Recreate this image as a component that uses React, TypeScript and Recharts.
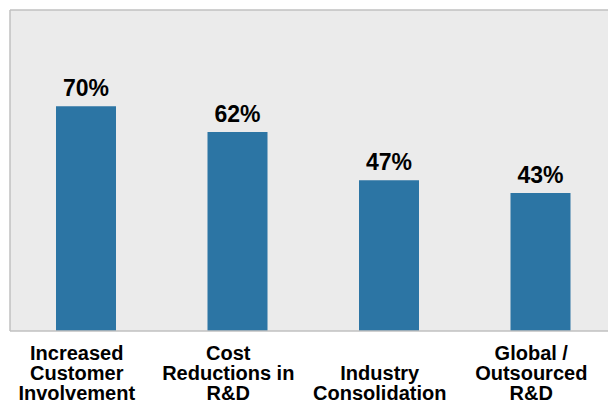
import { BarChart, Bar, XAxis, YAxis, CartesianGrid, LabelList } from "recharts"

const categories = [
  "Increased\nCustomer\nInvolvement",
  "Cost\nReductions in\nR&D",
  "Industry\nConsolidation",
  "Global /\nOutsourced\nR&D",
]
const shares = [70, 62, 47, 43]

const data = categories.map((name, i) => ({ name, share: shares[i] }))

const BAR_COLOR = "#2c75a4"
const PLOT_BG = "#ebebeb"
const BORDER = "#c0c0c0"
const FONT = "'Liberation Sans', Arial, Helvetica, sans-serif"

function CategoryTick(props: any) {
  const { x, y, payload } = props
  const lines = String(payload.value).split("\n")
  const lastBaseline = y + 61
  return (
    <g>
      {lines.map((line: string, i: number) => (
        <text
          key={i}
          x={x - 9}
          y={lastBaseline - (lines.length - 1 - i) * 20}
          textAnchor="middle"
          fontFamily={FONT}
          fontWeight="bold"
          fontSize={20}
          fill="#000"
        >
          {line}
        </text>
      ))}
    </g>
  )
}

function PercentLabel(props: any) {
  const { x, y, width, value } = props
  return (
    <text
      x={x + width / 2}
      y={y - 10}
      textAnchor="middle"
      fontFamily={FONT}
      fontWeight="bold"
      fontSize={23}
      fill="#000"
    >
      {value}%
    </text>
  )
}

export default function App() {
  return (
    <div style={{ position: "absolute", left: 0, top: 0, width: 608, height: 405, overflow: "hidden", background: "#fff" }}>
      <BarChart width={616} height={405} data={data} margin={{ top: 9, right: 0, bottom: 0, left: 9 }}>
        <CartesianGrid fill={PLOT_BG} horizontal={false} vertical={false} />
        <XAxis
          dataKey="name"
          interval={0}
          tickLine={false}
          axisLine={{ stroke: BORDER, strokeWidth: 1.5 }}
          tick={<CategoryTick />}
          height={74}
        />
        <XAxis
          xAxisId="top"
          dataKey="name"
          orientation="top"
          height={1}
          tick={false}
          tickLine={false}
          axisLine={{ stroke: BORDER, strokeWidth: 1.5 }}
        />
        <YAxis
          domain={[0, 100]}
          width={1}
          tick={false}
          tickLine={false}
          axisLine={{ stroke: BORDER, strokeWidth: 1.5 }}
        />
        <Bar dataKey="share" fill={BAR_COLOR} barSize={60} isAnimationActive={false}>
          <LabelList dataKey="share" content={<PercentLabel />} />
        </Bar>
      </BarChart>
    </div>
  )
}
